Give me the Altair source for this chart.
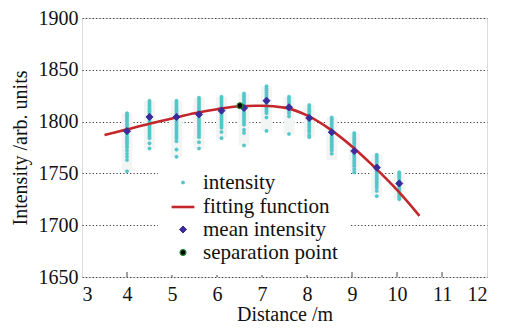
import altair as alt
import pandas as pd

# ---------------- data ----------------
col_x = [4.0, 4.5, 5.1, 5.6, 6.1, 6.6, 7.1, 7.6, 8.05, 8.55, 9.05, 9.55, 10.05]
intensity_cols = [
    [1808, 1806, 1805, 1803, 1801, 1799, 1797, 1795, 1793, 1791, 1789, 1787, 1785, 1783, 1781, 1779, 1777, 1775, 1772, 1769, 1766, 1763, 1752],
    [1820, 1818, 1816, 1814, 1812, 1810, 1808, 1806, 1804, 1802, 1800, 1798, 1796, 1794, 1792, 1790, 1788, 1786, 1784, 1779, 1774],
    [1820, 1818, 1816, 1814, 1812, 1810, 1808, 1806, 1804, 1802, 1800, 1798, 1796, 1794, 1792, 1790, 1788, 1786, 1784, 1781, 1773, 1766],
    [1823, 1821, 1819, 1817, 1815, 1813, 1811, 1809, 1807, 1805, 1803, 1801, 1799, 1797, 1795, 1793, 1791, 1789, 1787, 1785, 1780, 1774],
    [1824, 1822, 1820, 1818, 1816, 1814, 1812, 1810, 1808, 1806, 1804, 1802, 1800, 1798, 1796, 1794, 1790, 1784],
    [1827, 1825, 1823, 1821, 1819, 1817, 1815, 1813, 1811, 1809, 1807, 1805, 1803, 1801, 1799, 1797, 1792, 1789, 1777],
    [1834, 1832, 1830, 1828, 1826, 1824, 1822, 1820, 1818, 1816, 1814, 1812, 1810, 1808, 1804, 1791],
    [1824, 1822, 1820, 1818, 1816, 1814, 1812, 1810, 1808, 1805, 1788],
    [1816, 1814, 1812, 1810, 1808, 1806, 1804, 1802, 1800, 1798, 1796, 1794, 1792, 1790, 1787, 1785],
    [1804, 1802, 1800, 1798, 1796, 1794, 1792, 1790, 1788, 1786, 1784, 1782, 1780, 1778, 1776, 1774, 1772, 1769, 1754],
    [1789, 1787, 1785, 1783, 1781, 1779, 1777, 1775, 1773, 1771, 1769, 1767, 1765, 1763, 1761, 1759, 1757, 1754, 1751],
    [1768, 1766, 1764, 1762, 1760, 1758, 1756, 1754, 1752, 1750, 1748, 1746, 1744, 1742, 1740, 1738, 1736, 1733, 1728],
    [1751, 1749, 1747, 1745, 1743, 1741, 1739, 1737, 1735, 1733, 1731, 1729, 1727, 1725],
]
mean_intensity = [1790.8, 1804.5, 1804.5, 1807.0, 1810.6, 1813.1, 1820.2, 1813.8, 1803.5, 1789.8, 1771.6, 1755.6, 1740.3]
fit_x = [3.5, 4.0, 4.5, 5.0, 5.5, 6.0, 6.5, 7.0, 7.5, 8.0, 8.5, 9.0, 9.5, 10.0, 10.5]
fit_y = [1787, 1792.5, 1798, 1803, 1808, 1812, 1814.8, 1815.3, 1813.5, 1806, 1793, 1776, 1756, 1734, 1709]
sep_x = [6.51]
sep_y = [1815.4]
x_ticks = [3, 4, 5, 6, 7, 8, 9, 10, 11, 12]
y_ticks = [1650, 1700, 1750, 1800, 1850, 1900]

series = ["intensity", "fitting function", "mean intensity", "separation point"]
fills = ["#52c6c8", "#c3272b", "#3b2c9a", "#000000"]
strokes = ["#52c6c8", "#c3272b", "#3b2c9a", "#1f8a2a"]
shapes = ["circle", "stroke", "diamond", "circle"]
sizes = [13, 520, 50, 34]
widths = [0.3, 2.6, 1.0, 1.2]

# ---------------- tables ----------------
pts = pd.DataFrame(
    [{"x": cx, "v": v, "series": series[0]} for cx, col in zip(col_x, intensity_cols) for v in col]
)
means = pd.DataFrame({"x": col_x, "v": mean_intensity, "series": series[2]})
fit = pd.DataFrame({"x": fit_x, "v": fit_y, "series": series[1]})
sep = pd.DataFrame({"x": sep_x, "v": sep_y, "series": series[3]})
ticks = pd.DataFrame({"x": x_ticks[1:-1]})

W, H = 405, 259
FONT = "Liberation Serif"

xs = alt.Scale(domain=[3, 12], nice=False, zero=False, padding=0)
ys = alt.Scale(domain=[1650, 1900], nice=False, zero=False, padding=0)

common = dict(labelFont=FONT, titleFont=FONT, labelFontSize=20, titleFontSize=20,
              labelColor="#111", titleColor="#111", titleFontWeight="normal",
              ticks=False, domain=False, format="d")
x_axis = alt.Axis(values=x_ticks, title="Distance /m", grid=False,
                  labelPadding=7, titlePadding=0, **common)
y_axis = alt.Axis(values=y_ticks, title="Intensity /arb. units",
                  labelPadding=4, titlePadding=8,
                  grid=True, gridDash=[1.2, 2.2], gridColor="#333", gridWidth=1, **common)

leg = alt.Legend(orient="none", legendX=76, legendY=142, fillColor="white", padding=12,
                 labelFont=FONT, labelFontSize=21, labelColor="#111", labelOffset=7,
                 rowPadding=1, symbolOpacity=1)

fill_enc = alt.Fill("series:N", title=None, legend=leg,
                    scale=alt.Scale(type="ordinal", domain=series, range=fills))
stroke_enc = alt.Stroke("series:N", title=None, legend=leg,
                        scale=alt.Scale(type="ordinal", domain=series, range=strokes))
shape_enc = alt.Shape("series:N", title=None, legend=leg,
                      scale=alt.Scale(type="ordinal", domain=series, range=shapes))
size_enc = alt.Size("series:N", title=None, legend=leg,
                    scale=alt.Scale(type="ordinal", domain=series, range=sizes))
sw_enc = alt.StrokeWidth("series:N", title=None, legend=leg,
                         scale=alt.Scale(type="ordinal", domain=series, range=widths))

halo = alt.Chart(pts).mark_bar(color="#f3f5f5", width=11).encode(
    x=alt.X("x:Q", scale=xs, axis=x_axis),
    y=alt.Y("min(v):Q", scale=ys, axis=y_axis),
    y2="max(v):Q",
)

p_int = alt.Chart(pts).mark_point(filled=True, opacity=1).encode(
    x="x:Q", y="v:Q", fill=fill_enc, stroke=stroke_enc, shape=shape_enc, size=size_enc, strokeWidth=sw_enc
)
line = alt.Chart(fit).mark_line(interpolate="monotone", opacity=1).encode(
    x="x:Q", y="v:Q", stroke=stroke_enc, strokeWidth=sw_enc
)
p_mean = alt.Chart(means).mark_point(filled=True, opacity=1).encode(
    x="x:Q", y="v:Q", fill=fill_enc, stroke=stroke_enc, shape=shape_enc, size=size_enc, strokeWidth=sw_enc
)
p_sep = alt.Chart(sep).mark_point(filled=True, opacity=1).encode(
    x="x:Q", y="v:Q", fill=fill_enc, stroke=stroke_enc, shape=shape_enc, size=size_enc, strokeWidth=sw_enc
)
tick_rules = alt.Chart(ticks).mark_rule(color="#444", strokeWidth=1).encode(
    x="x:Q", y=alt.value(H), y2=alt.value(H - 5)
)

chart = alt.layer(halo, p_int, line, p_mean, p_sep, tick_rules).properties(
    width=W, height=H,
    autosize=alt.AutoSizeParams(type="none"),
    padding={"left": 74, "top": 10, "right": 18, "bottom": 51},
).configure_view(
    stroke="#444", strokeWidth=1.6, fill="white"
).configure(background="white")

chart.save("out.html", embed_options={"renderer": "svg", "actions": False})
